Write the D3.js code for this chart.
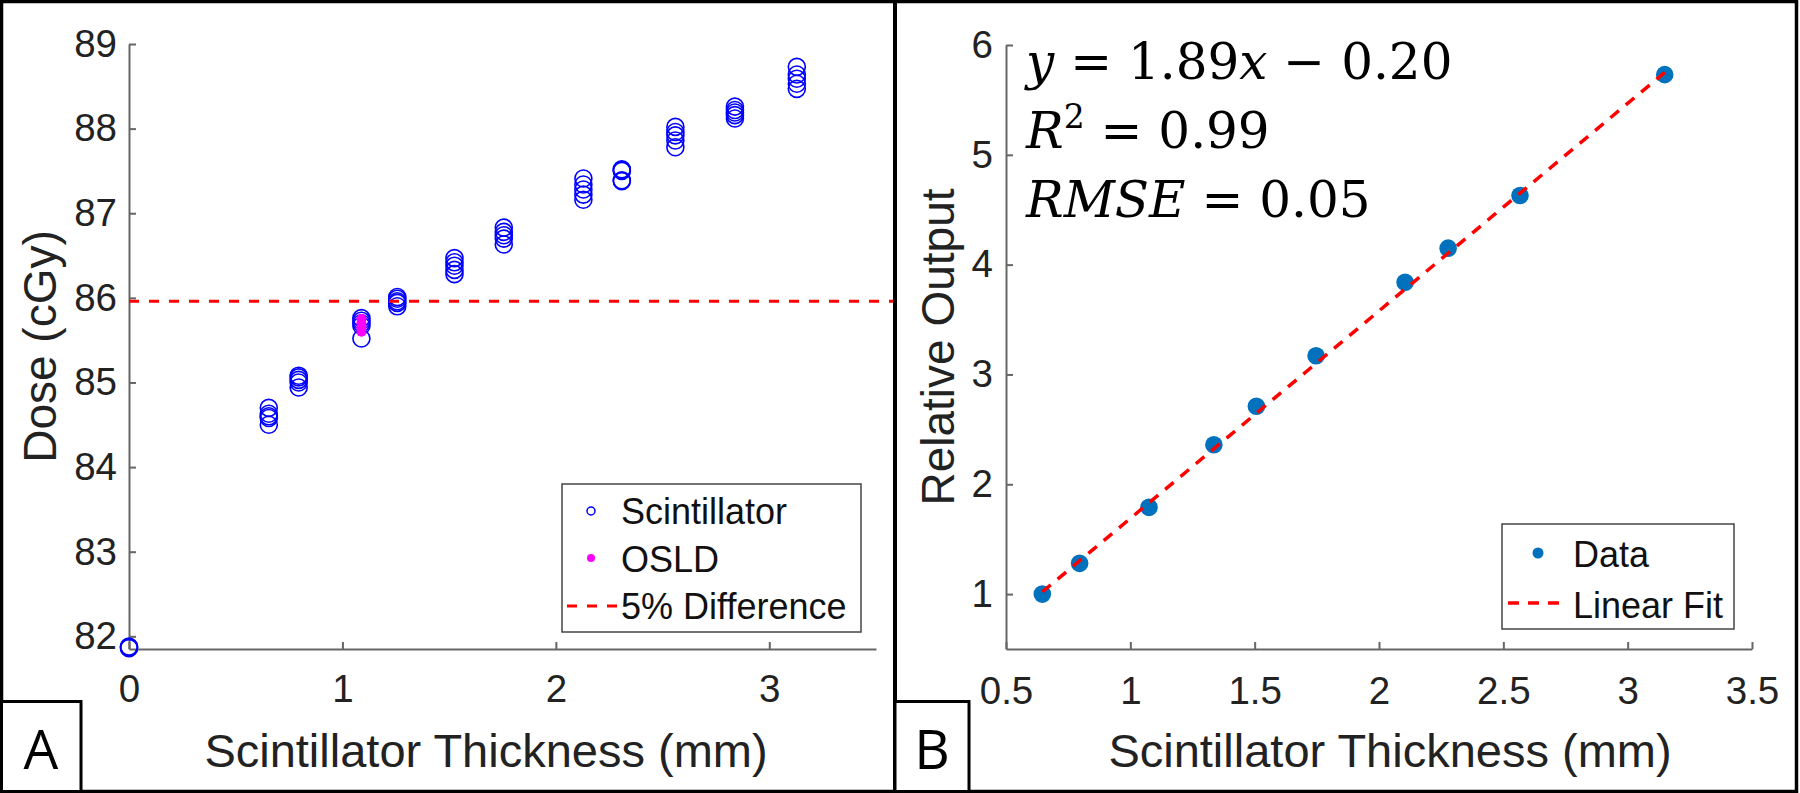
<!DOCTYPE html>
<html>
<head>
<meta charset="utf-8">
<script src="https://cdn.jsdelivr.net/npm/d3@7"></script>
<style>
  html, body { margin: 0; padding: 0; background: #fff; }
  svg { display: block; }
</style>
</head>
<body>
<svg id="chart" width="1800" height="793"></svg>
<script>
// ---------------- DATA ----------------
// Panel A
const scintThickness = [0, 0.655, 0.795, 1.089, 1.257, 1.525, 1.756, 2.129, 2.309, 2.56, 2.839, 3.129];
const scintDose = [
  [81.86, 81.87, 81.88],
  [84.50, 84.58, 84.60, 84.63, 84.70],
  [84.94, 85.00, 85.03, 85.06, 85.08],
  [85.52, 85.67, 85.70, 85.73, 85.76],
  [85.90, 85.94, 85.96, 85.99, 86.01],
  [86.28, 86.33, 86.38, 86.42, 86.47],
  [86.63, 86.70, 86.74, 86.78, 86.83],
  [87.16, 87.22, 87.28, 87.34, 87.41],
  [87.38, 87.39, 87.50, 87.51, 87.52],
  [87.78, 87.86, 87.92, 87.96, 88.02],
  [88.12, 88.16, 88.19, 88.22, 88.26],
  [88.47, 88.53, 88.59, 88.64, 88.73]
];
const osldThickness = [1.089, 1.089, 1.089, 1.089];
const osldDose = [85.60, 85.65, 85.70, 85.75];
const diffLevel = 85.96;
const doseTicks = [82, 83, 84, 85, 86, 87, 88, 89];
const thickTicksA = [0, 1, 2, 3];
const legendA = ["Scintillator", "OSLD", "5% Difference"];

// Panel B
const relThickness = [0.646, 0.796, 1.075, 1.336, 1.507, 1.747, 2.105, 2.278, 2.567, 3.149];
const relOutput = [1.00, 1.28, 1.79, 2.36, 2.71, 3.17, 3.84, 4.15, 4.63, 5.73];
const fitThickness = [0.646, 3.149];
const fitOutput = [1.02, 5.75];
const outputTicks = [1, 2, 3, 4, 5, 6];
const thickTicksB = [0.5, 1, 1.5, 2, 2.5, 3, 3.5];
const legendB = ["Data", "Linear Fit"];

// ---------------- DRAW ----------------
const svg = d3.select("#chart");
const SANS = "'Liberation Sans', Arial, Helvetica, sans-serif";
const SERIF = "'DejaVu Serif', serif";
const axisColor = "#666";
const textColor = "#222";

function styleAxis(g, fs) {
  g.select(".domain").attr("stroke", axisColor).attr("stroke-width", 2);
  g.selectAll(".tick line").attr("stroke", axisColor).attr("stroke-width", 2);
  g.selectAll(".tick text").attr("fill", textColor)
    .style("font-family", SANS).style("font-size", fs + "px");
}

// ===== Panel A =====
const xA = d3.scaleLinear().domain([0, 3.5]).range([129, 876]);
const yA = d3.scaleLinear().domain([81.85, 89]).range([649, 44]);

const gA = svg.append("g");
gA.append("g").attr("transform", `translate(0,${yA.range()[0]})`)
  .call(d3.axisBottom(xA).tickValues(thickTicksA).tickFormat(d => String(d))
    .tickSizeInner(-7).tickSizeOuter(0).tickPadding(26))
  .call(g => styleAxis(g, 38.5));
gA.append("g").attr("transform", `translate(${xA.range()[0]},0)`)
  .call(d3.axisLeft(yA).tickValues(doseTicks).tickFormat(d => String(d))
    .tickSizeInner(-7).tickSizeOuter(0).tickPadding(12))
  .call(g => styleAxis(g, 38.5));

// scintillator circles
const scintPts = [];
scintThickness.forEach((t, i) => scintDose[i].forEach(v => scintPts.push([t, v])));
gA.append("g").selectAll("circle").data(scintPts).join("circle")
  .attr("cx", d => xA(d[0])).attr("cy", d => yA(d[1])).attr("r", 8.5)
  .attr("fill", "none").attr("stroke", "#0000ff").attr("stroke-width", 1.6);
// OSLD
gA.append("g").selectAll("circle").data(osldDose).join("circle")
  .attr("cx", (d, i) => xA(osldThickness[i])).attr("cy", d => yA(d)).attr("r", 5)
  .attr("fill", "#ff00ff");
// 5% line
gA.append("line").attr("x1", xA(0)).attr("x2", 897)
  .attr("y1", yA(diffLevel)).attr("y2", yA(diffLevel))
  .attr("stroke", "#ff0000").attr("stroke-width", 3).attr("stroke-dasharray", "10,10");

// axis titles
gA.append("text").attr("x", 486).attr("y", 767).attr("text-anchor", "middle")
  .style("font-family", SANS).style("font-size", "47px").attr("fill", textColor)
  .text("Scintillator Thickness (mm)");
gA.append("text").attr("transform", `translate(56,${(yA.range()[0] + yA.range()[1]) / 2}) rotate(-90)`)
  .attr("text-anchor", "middle")
  .style("font-family", SANS).style("font-size", "46px").attr("fill", textColor)
  .text("Dose (cGy)");

// legend A
const legA = gA.append("g");
legA.append("rect").attr("x", 562).attr("y", 484).attr("width", 299).attr("height", 148)
  .attr("fill", "#fff").attr("stroke", "#444").attr("stroke-width", 1.5);
const legAY = [524, 572, 619];
legA.selectAll("text").data(legendA).join("text")
  .attr("x", 621).attr("y", (d, i) => legAY[i])
  .style("font-family", SANS).style("font-size", "36px").attr("fill", "#111")
  .text(d => d);
legA.append("circle").attr("cx", 591).attr("cy", 511).attr("r", 4)
  .attr("fill", "none").attr("stroke", "#0000ff").attr("stroke-width", 1.5);
legA.append("circle").attr("cx", 591).attr("cy", 558).attr("r", 4).attr("fill", "#ff00ff");
legA.append("line").attr("x1", 567).attr("x2", 617).attr("y1", 606).attr("y2", 606)
  .attr("stroke", "#ff0000").attr("stroke-width", 3).attr("stroke-dasharray", "10,10");

// ===== Panel B =====
const xB = d3.scaleLinear().domain([0.5, 3.5]).range([1006, 1752]);
const yB = d3.scaleLinear().domain([0.5, 6]).range([649, 45]);

const gB = svg.append("g");
gB.append("g").attr("transform", `translate(0,${yB.range()[0]})`)
  .call(d3.axisBottom(xB).tickValues(thickTicksB).tickFormat(d => String(d))
    .tickSizeInner(-7).tickSizeOuter(0).tickPadding(28))
  .call(g => styleAxis(g, 38.5));
gB.append("g").attr("transform", `translate(${xB.range()[0]},0)`)
  .call(d3.axisLeft(yB).tickValues(outputTicks).tickFormat(d => String(d))
    .tickSizeInner(-7).tickSizeOuter(0).tickPadding(13))
  .call(g => styleAxis(g, 38.5));

gB.append("g").selectAll("circle").data(relThickness).join("circle")
  .attr("cx", d => xB(d)).attr("cy", (d, i) => yB(relOutput[i])).attr("r", 8.8)
  .attr("fill", "#0072BD");
gB.append("path").datum(fitThickness.map((t, i) => [t, fitOutput[i]]))
  .attr("d", d3.line().x(d => xB(d[0])).y(d => yB(d[1])))
  .attr("fill", "none").attr("stroke", "#ff0000").attr("stroke-width", 3.5)
  .attr("stroke-dasharray", "11,9");

gB.append("text").attr("x", 1390).attr("y", 767).attr("text-anchor", "middle")
  .style("font-family", SANS).style("font-size", "47px").attr("fill", textColor)
  .text("Scintillator Thickness (mm)");
gB.append("text").attr("transform", `translate(954,${(yB.range()[0] + yB.range()[1]) / 2}) rotate(-90)`)
  .attr("text-anchor", "middle")
  .style("font-family", SANS).style("font-size", "46px").attr("fill", textColor)
  .text("Relative Output");

// equation text
const eq = gB.append("g").style("font-family", SERIF).style("font-size", "50px").attr("fill", "#000");
const l1 = eq.append("text").attr("x", 1026).attr("y", 79);
l1.append("tspan").style("font-style", "italic").text("y");
l1.append("tspan").text(" = 1.89");
l1.append("tspan").style("font-style", "italic").text("x");
l1.append("tspan").text(" \u2212 0.20");
const l2 = eq.append("text").attr("x", 1026).attr("y", 148);
l2.append("tspan").style("font-style", "italic").text("R");
l2.append("tspan").attr("dy", -20).style("font-size", "33px").text("2");
l2.append("tspan").attr("dy", 20).text(" = 0.99");
const l3 = eq.append("text").attr("x", 1026).attr("y", 217);
l3.append("tspan").style("font-style", "italic").text("RMSE");
l3.append("tspan").text(" = 0.05");

// legend B
const legB = gB.append("g");
legB.append("rect").attr("x", 1502).attr("y", 524).attr("width", 232).attr("height", 105)
  .attr("fill", "#fff").attr("stroke", "#444").attr("stroke-width", 1.5);
const legBY = [567, 618];
legB.selectAll("text").data(legendB).join("text")
  .attr("x", 1573).attr("y", (d, i) => legBY[i])
  .style("font-family", SANS).style("font-size", "36px").attr("fill", "#111")
  .text(d => d);
legB.append("circle").attr("cx", 1538).attr("cy", 553).attr("r", 5.5).attr("fill", "#0072BD");
legB.append("line").attr("x1", 1508).attr("x2", 1568).attr("y1", 603).attr("y2", 603)
  .attr("stroke", "#ff0000").attr("stroke-width", 3.5).attr("stroke-dasharray", "11,9");

// ===== Frames and panel labels =====
const frame = svg.append("g");
frame.append("rect").attr("x", 1.5).attr("y", 1.5).attr("width", 1795).attr("height", 790)
  .attr("fill", "none").attr("stroke", "#000").attr("stroke-width", 3.5);
frame.append("line").attr("x1", 895).attr("x2", 895).attr("y1", 0).attr("y2", 793)
  .attr("stroke", "#000").attr("stroke-width", 4);
frame.append("rect").attr("x", 1.5).attr("y", 701.5).attr("width", 79.5).attr("height", 90)
  .attr("fill", "#fff").attr("stroke", "#000").attr("stroke-width", 3);
frame.append("rect").attr("x", 895).attr("y", 701.5).attr("width", 74).attr("height", 90)
  .attr("fill", "#fff").attr("stroke", "#000").attr("stroke-width", 3);
frame.append("text").attr("x", 41).attr("y", 769).attr("text-anchor", "middle")
  .style("font-family", "'Open Sans', sans-serif").style("font-size", "55px").attr("fill", "#000").text("A");
frame.append("text").attr("x", 932).attr("y", 769).attr("text-anchor", "middle")
  .style("font-family", "'Open Sans', sans-serif").style("font-size", "55px").attr("fill", "#000").text("B");
</script>
</body>
</html>
